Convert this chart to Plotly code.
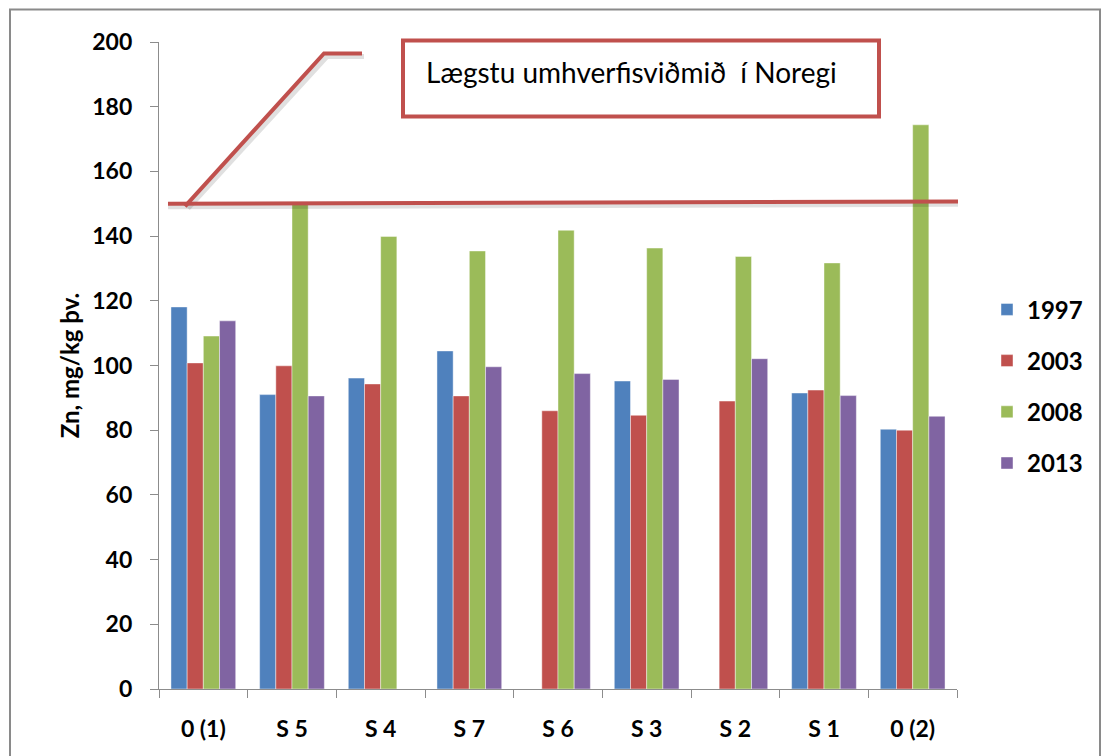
import plotly.graph_objects as go

# Sampling stations along the transect
stations = ["0 (1)", "S 5", "S 4", "S 7", "S 6", "S 3", "S 2", "S 1", "0 (2)"]

# Zn concentration (mg/kg dry weight) per survey year; None = not sampled
zn_1997 = [118.1, 91.0, 96.1, 104.5, None, 95.2, None, 91.5, 80.3]
zn_2003 = [100.8, 99.9, 94.3, 90.6, 86.0, 84.6, 89.0, 92.4, 80.0]
zn_2008 = [109.1, 150.5, 139.9, 135.4, 141.8, 136.3, 133.7, 131.7, 174.4]
zn_2013 = [113.8, 90.6, None, 99.6, 97.5, 95.7, 102.1, 90.7, 84.3]

years = ["1997", "2003", "2008", "2013"]
series = [zn_1997, zn_2003, zn_2008, zn_2013]
colors = ["#4F81BD", "#C0504D", "#9BBB59", "#8064A2"]

# Norwegian lowest environmental threshold for Zn
norway_limit = 150
limit_label = "Lægstu umhverfisviðmið\u00a0 í Noregi"

y_ticks = list(range(0, 201, 20))

W, H = 1105, 756
PL, PR, PT, PB = 159, 957, 41.5, 689  # plot area in pixels


def fx(px):
    return (px - PL) / (PR - PL)


def fy(py):
    return (PB - py) / (PB - PT)


FONT = "Lato, 'Open Sans', Arial, sans-serif"
RED = "#C0504D"

fig = go.Figure()
for name, vals, col in zip(years, series, colors):
    fig.add_trace(go.Bar(
        x=stations, y=vals, name=name, legendgroup=name,
        marker=dict(color=col, line=dict(color="rgba(255,255,255,0.55)", width=0.8)),
    ))

shapes = []
# outer frame of the chart
shapes.append(dict(type="rect", xref="paper", yref="paper",
                   x0=fx(10), x1=fx(1100), y0=fy(762), y1=fy(9),
                   line=dict(color="#8a8a8a", width=2), fillcolor="rgba(0,0,0,0)", layer="below"))

# soft shadows under the threshold marks
shadow = "rgba(0,0,0,0.12)"
shapes.append(dict(type="line", xref="paper", yref="paper",
                   x0=fx(168), x1=fx(958), y0=fy(206.5), y1=fy(204),
                   line=dict(color=shadow, width=5)))
shapes.append(dict(type="path", xref="paper", yref="paper",
                   path=f"M {fx(188)} {fy(208)} L {fx(327)} {fy(56)} L {fx(364)} {fy(56)}",
                   line=dict(color=shadow, width=5)))

# threshold line
shapes.append(dict(type="line", xref="paper", yref="y",
                   x0=fx(168), x1=fx(958), y0=norway_limit, y1=norway_limit + 0.7,
                   line=dict(color=RED, width=4)))
# leader line to the label box
shapes.append(dict(type="path", xref="paper", yref="paper",
                   path=f"M {fx(185)} {fy(206)} L {fx(324)} {fy(53)} L {fx(362)} {fy(53)}",
                   line=dict(color=RED, width=4)))
# label box
shapes.append(dict(type="rect", xref="paper", yref="paper",
                   x0=fx(403), x1=fx(879), y0=fy(116), y1=fy(40),
                   line=dict(color=RED, width=4), fillcolor="white"))

annotations = [dict(
    xref="paper", yref="paper", x=fx(424), y=fy(72), xanchor="left", yanchor="middle",
    text=limit_label, showarrow=False,
    font=dict(family=FONT, size=28, color="black"),
)]

fig.update_layout(
    width=W, height=H, autosize=False,
    margin=dict(l=PL, r=W - PR, t=PT, b=H - PB, pad=0),
    paper_bgcolor="white", plot_bgcolor="white",
    barmode="group", bargap=0.27, bargroupgap=0,
    shapes=shapes, annotations=annotations,
    showlegend=True,
    legend=dict(x=fx(987), y=fy(287), xanchor="left", yanchor="top",
                font=dict(family=FONT, size=24, color="black", weight="bold"),
                tracegroupgap=17, itemwidth=30, bgcolor="rgba(0,0,0,0)"),
    font=dict(family=FONT, color="black"),
)

fig.update_yaxes(
    range=[0, 200], tickvals=y_ticks, ticktext=[str(v) for v in y_ticks],
    showgrid=False, zeroline=False,
    showline=True, linecolor="#8c8c8c", linewidth=1.2,
    ticks="outside", ticklen=8, tickcolor="#8c8c8c", tickwidth=1.2,
    tickfont=dict(family=FONT, size=23, color="black", weight="bold"),
    ticklabelstandoff=13,
    title=dict(text="Zn, mg/kg þv.", standoff=5,
               font=dict(family=FONT, size=24, color="black", weight="bold")),
)

fig.update_xaxes(
    type="category", categoryorder="array", categoryarray=stations,
    showgrid=False, showline=True, linecolor="#8c8c8c", linewidth=1.2,
    ticks="outside", tickson="boundaries", ticklen=8, tickcolor="#8c8c8c", tickwidth=1.2,
    tickfont=dict(family=FONT, size=23, color="black", weight="bold"),
    ticklabelstandoff=19,
)

fig.write_html("out.html")
